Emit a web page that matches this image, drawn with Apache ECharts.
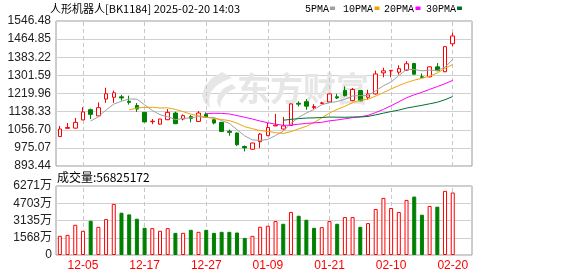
<!DOCTYPE html>
<html>
<head>
<meta charset="utf-8">
<script src="https://cdn.jsdelivr.net/npm/echarts@6/dist/echarts.min.js"></script>
<style>html,body{margin:0;padding:0;background:#fff}#c{width:578px;height:276px}</style>
</head>
<body>
<div id="c"></div>
<script>
// ---- data ----
const dates = ['12-02','12-03','12-04','12-05','12-06','12-09','12-10','12-11','12-12','12-13',
  '12-16','12-17','12-18','12-19','12-20','12-23','12-24','12-25','12-26','12-27',
  '12-30','12-31','01-02','01-03','01-06','01-07','01-08','01-09','01-10','01-13',
  '01-14','01-15','01-16','01-17','01-20','01-21','01-22','01-23','01-24','01-27',
  '02-05','02-06','02-07','02-10','02-11','02-12','02-13','02-14','02-17','02-18',
  '02-19','02-20'];
const opens  = [1026,1063,1064,1101,1147,1119,1195,1203,1205,1185,1166,1135,1093,1082,1102,1132,1105,1116,1094,1126,
  1102,1090,1050,1042,981,969,1003,1030,1074,1060,1076,1176,1183,1157,1175,1182,1205,1234,1188,1233,
  1203,1218,1313,1322,1316,1325,1355,1295,1295,1340,1318,1444];
const closes = [1060,1067,1090,1137,1126,1156,1219,1223,1200,1180,1150,1092,1095,1105,1135,1084,1120,1108,1132,1114,
  1087,1049,1045,989,975,997,1037,1067,1077,1074,1173,1172,1163,1161,1178,1218,1200,1210,1238,1187,
  1218,1308,1322,1324,1332,1354,1307,1293,1340,1323,1431,1479];
const highs  = [1074,1087,1110,1158,1152,1180,1246,1233,1214,1210,1177,1137,1105,1106,1150,1138,1126,1123,1141,1135,
  1103,1092,1057,1044,986,998,1042,1087,1128,1114,1175,1185,1195,1172,1183,1219,1218,1252,1245,1235,
  1237,1323,1336,1325,1347,1366,1358,1310,1341,1357,1432,1494];
const lows   = [1024,1062,1063,1100,1105,1118,1178,1178,1188,1170,1137,1090,1082,1080,1100,1082,1099,1090,1093,1112,
  1081,1047,1030,984,959,966,974,1028,1074,1058,1074,1162,1147,1150,1172,1181,1195,1207,1185,1185,
  1192,1215,1293,1293,1305,1322,1305,1290,1293,1320,1316,1433];
// volume in 万 (10k)
const volumes = [1739,1831,2747,2197,3113,2563,3266,4641,3845,3690,3296,2472,2441,2197,2441,2014,2014,2289,2106,2289,
  2014,2106,2106,2044,1556,1739,2563,2655,3083,2838,3907,3570,3204,2472,2533,3083,2838,3449,3449,2563,
  2899,4182,5189,4273,3907,5006,5310,3662,4456,4395,5829,5682.5172];
const labelDates = ['12-05','12-17','12-27','01-09','01-21','02-10','02-20'];
const maPeriods = [5, 10, 20, 30];
const maNames = ['5PMA','10PMA','20PMA','30PMA'];
const priceMin = 893.44, priceMax = 1546.48, priceStep = 81.63;
const volMax = 6270.9;
const titleText = '人形机器人[BK1184] 2025-02-20 14:03';
const volTitle = '成交量:56825172';

// ---- styles ----
const RED = '#ff0000', GREEN = '#008000';
const maColors = ['#a0a0a0', '#f0a30a', '#ff00ff', '#007030'];
const gridLine = '#d0d0d0';

const cats = dates.concat([' ', '  ']);
const B = priceMin;
const candleData = dates.map((d, i) => [opens[i] - B, closes[i] - B, lows[i] - B, highs[i] - B]);
function ma(n) {
  return closes.map((c, i) => {
    if (i < n - 1) return '-';
    let s = 0;
    for (let k = i - n + 1; k <= i; k++) s += closes[k];
    return s / n - B;
  });
}
const volData = volumes.map((v, i) => {
  const up = i === 0 ? closes[i] >= opens[i] : closes[i] >= closes[i - 1];
  return { value: v, itemStyle: up ? { color: '#fff', borderColor: RED, borderWidth: 1 } : { color: GREEN, borderColor: GREEN, borderWidth: 1 } };
});
const vMark = {
  silent: true, symbol: 'none', z: 1, label: { show: false },
  lineStyle: { color: '#c8c8c8', type: [4, 3], width: 1 },
  emphasis: { disabled: true },
  data: labelDates.map(d => ({ xAxis: d }))
};

const legendX = [[305, 330], [343, 374.5], [384, 415.5], [426, 457]];
const graphics = [
  { type: 'text', x: 50, y: 9, z: 10, style: { text: titleText, font: '11px "Noto Sans CJK SC"', fill: '#000', verticalAlign: 'middle', textVerticalAlign: 'middle' } },
  { type: 'text', x: 57, y: 177.5, z: 10, style: { text: volTitle, font: '12px "Noto Sans CJK SC"', fill: '#000', verticalAlign: 'middle', textVerticalAlign: 'middle' } },
  { type: 'text', x: 237, y: 88, z: 1, style: { text: '东方财富', font: 'bold 33px "Noto Sans CJK SC"', fill: '#e6e6e6', verticalAlign: 'middle', textVerticalAlign: 'middle' } },
  { type: 'polygon', z: 1, shape: { points: [[222,72],[212,78],[205,86],[202,95],[204,102],[210,108],[209,100],[211,92],[216,86],[224,81],[232,78]] }, style: { fill: '#e6e6e6' } },
  { type: 'polygon', z: 1, shape: { points: [[232,84],[224,88],[218,95],[217,102],[220,108],[221,101],[225,95],[230,91],[236,88]] }, style: { fill: '#e6e6e6' } }
];
maNames.forEach((n, i) => {
  graphics.push({ type: 'text', x: legendX[i][0], y: 9, z: 10, style: { text: n, font: '10px "Liberation Mono"', fill: '#000', verticalAlign: 'middle', textVerticalAlign: 'middle' } });
  graphics.push({ type: 'rect', z: 10, shape: { x: legendX[i][1], y: 6.5, width: 5, height: 3.5 }, style: { fill: maColors[i] } });
});

const option = {
  animation: false,
  backgroundColor: '#fff',
  grid: [
    { left: 56, right: 106, top: 21, height: 145, show: true, borderColor: '#9a9a9a', borderWidth: 1, backgroundColor: 'transparent' },
    { left: 56, right: 106, top: 186, height: 69, show: true, borderColor: '#9a9a9a', borderWidth: 1, backgroundColor: 'transparent' }
  ],
  xAxis: [
    { type: 'category', gridIndex: 0, data: cats, boundaryGap: true, axisLine: { show: false }, axisTick: { show: false }, axisLabel: { show: false }, splitLine: { show: false } },
    { type: 'category', gridIndex: 1, data: cats, boundaryGap: true, axisLine: { show: false }, axisTick: { show: false }, splitLine: { show: false },
      axisLabel: { color: RED, fontSize: 12, fontFamily: 'Liberation Sans', margin: 5, interval: (i) => labelDates.indexOf(cats[i]) >= 0 } }
  ],
  yAxis: [
    { type: 'value', gridIndex: 0, min: 0, max: priceMax - priceMin, interval: priceStep, axisLine: { show: false }, axisTick: { show: false },
      splitLine: { lineStyle: { color: gridLine, width: 1 } },
      axisLabel: { color: '#222', fontSize: 12, fontFamily: 'Liberation Sans', margin: 5, formatter: v => (v + B).toFixed(2) } },
    { type: 'value', gridIndex: 1, min: 0, max: volMax, interval: volMax / 4, axisLine: { show: false }, axisTick: { show: false },
      splitLine: { lineStyle: { color: gridLine, width: 1 } },
      axisLabel: { color: '#222', fontSize: 12, fontFamily: 'Liberation Sans, Noto Sans CJK SC', margin: 4, formatter: v => v === 0 ? '0' : Math.round(v) + '万' } }
  ],
  graphic: graphics,
  series: [
    { type: 'candlestick', name: 'K', xAxisIndex: 0, yAxisIndex: 0, data: candleData, barWidth: 4,
      itemStyle: { color: '#fff', color0: GREEN, borderColor: RED, borderColor0: GREEN, borderWidth: 1 },
      markLine: vMark }
  ].concat(maPeriods.map((p, i) => ({
      type: 'line', name: maNames[i], xAxisIndex: 0, yAxisIndex: 0, data: ma(p), showSymbol: false, symbol: 'none',
      lineStyle: { color: maColors[i], width: 1 }, itemStyle: { color: maColors[i] }, z: 3
  }))).concat([
    { type: 'bar', name: 'VOL', xAxisIndex: 1, yAxisIndex: 1, data: volData, barWidth: 4, markLine: vMark }
  ])
};
const chart = echarts.init(document.getElementById('c'), null, { renderer: 'canvas' });
chart.setOption(option);
</script>
</body>
</html>
